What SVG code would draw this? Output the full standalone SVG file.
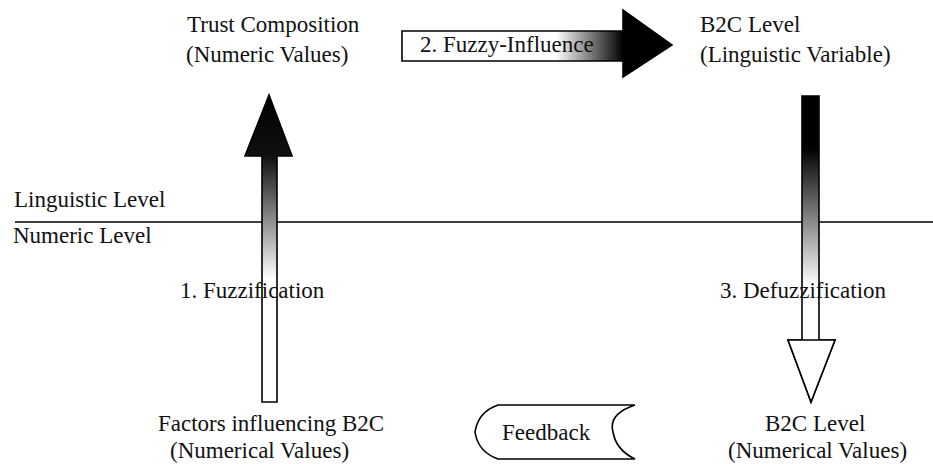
<svg xmlns="http://www.w3.org/2000/svg" width="933" height="464" viewBox="0 0 933 464">
<style>
text{font-family:'Liberation Serif','Times New Roman','DejaVu Serif',serif;font-size:23px;fill:#111}
.ar{stroke:#000;stroke-width:1.6;stroke-linejoin:miter}
.ln{stroke:#000;stroke-width:1.6;fill:none}
</style>
<defs>
<linearGradient id="gH" gradientUnits="userSpaceOnUse" x1="402" y1="0" x2="672" y2="0">
<stop offset="0" stop-color="#fff"/><stop offset="0.57" stop-color="#fff"/><stop offset="0.82" stop-color="#000"/><stop offset="1" stop-color="#000"/>
</linearGradient>
<linearGradient id="gU" gradientUnits="userSpaceOnUse" x1="0" y1="95" x2="0" y2="402">
<stop offset="0" stop-color="#000"/><stop offset="0.2" stop-color="#111"/><stop offset="0.6" stop-color="#fff"/><stop offset="1" stop-color="#fff"/>
</linearGradient>
<linearGradient id="gD" gradientUnits="userSpaceOnUse" x1="0" y1="96" x2="0" y2="402">
<stop offset="0" stop-color="#000"/><stop offset="0.17" stop-color="#000"/><stop offset="0.62" stop-color="#fff"/><stop offset="1" stop-color="#fff"/>
</linearGradient>
</defs>
<rect width="933" height="464" fill="#fff"/>
<g font-family="Liberation Serif, Times New Roman, serif">
<g id="levels">
<line class="ln" x1="15" y1="222" x2="933" y2="222"/>
<text x="14" y="207">Linguistic Level</text>
<text x="13" y="243">Numeric Level</text>
</g>
<g id="connectors">
<g id="fuzzification">
<path class="ar" fill="url(#gU)" d="M262,402 L262,156 L245,156 L269,95 L292,156 L277,156 L277,402 Z"/>
<text x="180" y="298">1. Fuzzification</text>
</g>
<g id="fuzzy-influence">
<path class="ar" fill="url(#gH)" d="M402,31 L623,31 L623,10 L672,45 L623,77 L623,61 L402,61 Z"/>
<text x="420" y="52">2. Fuzzy-Influence</text>
</g>
<g id="defuzzification">
<path class="ar" fill="url(#gD)" d="M802,96 L819,96 L819,340 L835,340 L811,402 L788,340 L802,340 Z"/>
<path class="ar" fill="#fff" d="M788,340 L802,340 L819,340 L835,340 L811,402 Z"/>
<text x="720" y="298">3. Defuzzification</text>
</g>
</g>
<g id="trust-composition">
<text x="187" y="32">Trust Composition</text>
<text x="186" y="62">(Numeric Values)</text>
</g>
<g id="b2c-linguistic">
<text x="700" y="32">B2C Level</text>
<text x="700" y="62">(Linguistic Variable)</text>
</g>
<g id="factors">
<text x="158" y="431">Factors influencing B2C</text>
<text x="170" y="458">(Numerical Values)</text>
</g>
<g id="b2c-numerical">
<text x="765" y="431">B2C Level</text>
<text x="728" y="458">(Numerical Values)</text>
</g>
<g id="feedback">
<path class="ln" fill="#fff" d="M498,405 L635,405 Q608,414 613,432 Q616,450 635,459 L498,459 Q478,452 475,432 Q478,412 498,405 Z"/>
<text x="502" y="440">Feedback</text>
</g>
</g>
</svg>
